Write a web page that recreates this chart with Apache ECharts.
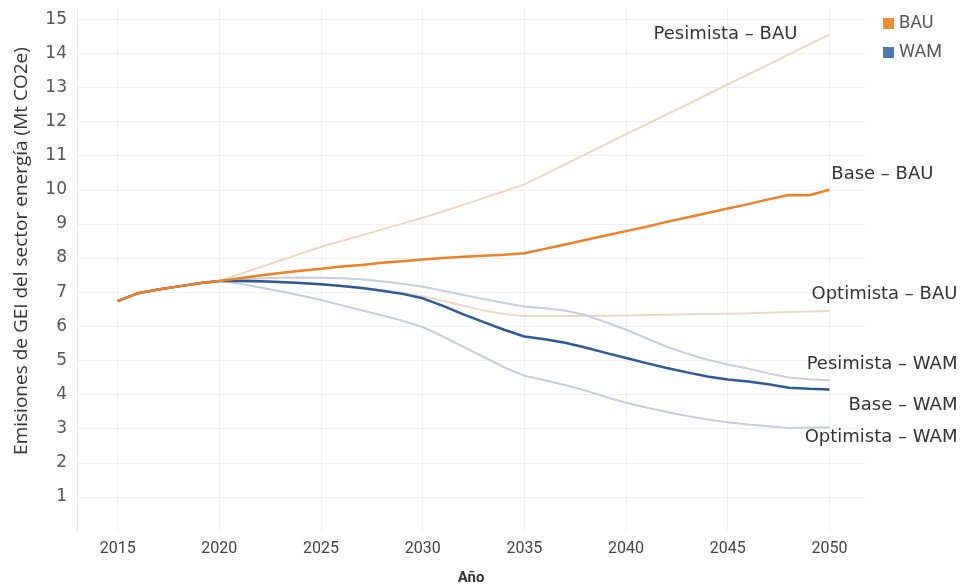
<!DOCTYPE html>
<html>
<head>
<meta charset="utf-8">
<script src="https://cdn.jsdelivr.net/npm/echarts@6/dist/echarts.min.js"></script>
<style>
  html, body { margin: 0; padding: 0; background: #fff; }
  #chart { width: 965px; height: 587px; }
</style>
</head>
<body>
<div id="chart"></div>
<script>
// años 2015-2050
const years = [2015, 2016, 2017, 2018, 2019, 2020, 2021, 2022, 2023, 2024, 2025, 2026,
  2027, 2028, 2029, 2030, 2031, 2032, 2033, 2034, 2035, 2036, 2037, 2038, 2039, 2040,
  2041, 2042, 2043, 2044, 2045, 2046, 2047, 2048, 2049, 2050];

const xTicks = [2015, 2020, 2025, 2030, 2035, 2040, 2045, 2050];
const yTicks = [1, 2, 3, 4, 5, 6, 7, 8, 9, 10, 11, 12, 13, 14, 15];

// Mt CO2e
const baseBAU = [6.74, 6.97, 7.08, 7.17, 7.26, 7.33,
  7.41, 7.49, 7.56, 7.63, 7.69, 7.75, 7.8, 7.86, 7.91, 7.96, 8.0, 8.04, 8.07, 8.1, 8.14,
  8.27, 8.4, 8.53, 8.66, 8.79, 8.92, 9.06, 9.19, 9.32, 9.45, 9.58, 9.72, 9.85, 9.84, 10.0];
const pesimistaBAU = [6.74, 6.97, 7.08, 7.17, 7.26, 7.33,
  7.53, 7.73, 7.93, 8.13, 8.33, 8.5, 8.67, 8.84, 9.01, 9.18, 9.37, 9.56, 9.76, 9.96, 10.16,
  10.45, 10.75, 11.04, 11.33, 11.63, 11.92, 12.21, 12.5, 12.8, 13.09, 13.38, 13.67, 13.97, 14.26, 14.55];
const optimistaBAU = [6.74, 6.97, 7.08, 7.17, 7.26, 7.33,
  7.32, 7.3, 7.28, 7.26, 7.23, 7.19, 7.13, 7.06, 6.98, 6.88, 6.75, 6.6, 6.46, 6.36, 6.3,
  6.3, 6.3, 6.31, 6.31, 6.32, 6.33, 6.34, 6.35, 6.36, 6.37, 6.38, 6.4, 6.42, 6.43, 6.45];
const baseWAM = [6.74, 6.97, 7.08, 7.17, 7.26, 7.33,
  7.33, 7.32, 7.3, 7.27, 7.23, 7.18, 7.12, 7.04, 6.95, 6.82, 6.6, 6.35, 6.12, 5.9, 5.7,
  5.62, 5.52, 5.38, 5.22, 5.07, 4.92, 4.78, 4.65, 4.53, 4.44, 4.38, 4.3, 4.2, 4.17, 4.15];
const pesimistaWAM = [6.74, 6.97, 7.08, 7.17, 7.26, 7.33,
  7.37, 7.4, 7.42, 7.43, 7.42, 7.41, 7.38, 7.32, 7.25, 7.16, 7.04, 6.92, 6.8, 6.68, 6.58,
  6.53, 6.46, 6.33, 6.12, 5.9, 5.65, 5.4, 5.2, 5.02, 4.88, 4.76, 4.62, 4.5, 4.45, 4.42];
const optimistaWAM = [6.74, 6.97, 7.08, 7.17, 7.26, 7.33,
  7.25, 7.14, 7.03, 6.9, 6.77, 6.62, 6.47, 6.32, 6.16, 5.98, 5.7, 5.4, 5.1, 4.8, 4.55,
  4.42, 4.28, 4.12, 3.93, 3.76, 3.62, 3.49, 3.37, 3.27, 3.19, 3.12, 3.07, 3.02, 3.03, 3.03];

const chart = echarts.init(document.getElementById('chart'));

function serie(name, values, color, legendColor, width, label, offset, z) {
  return {
    name: name,
    type: 'line',
    data: years.map((y, i) => [y, values[i]]),
    showSymbol: false,
    symbol: 'none',
    z: z,
    itemStyle: { color: legendColor },
    lineStyle: { color: color, width: width },
    emphasis: { disabled: true },
    endLabel: {
      show: true,
      formatter: label,
      align: 'right',
      verticalAlign: 'middle',
      offset: offset,
      color: '#333',
      fontFamily: 'DejaVu Sans',
      fontSize: 18
    }
  };
}

const option = {
  backgroundColor: '#fff',
  animation: false,
  grid: { left: 77, right: 100, top: 9, bottom: 56, outerBoundsMode: 'none', containLabel: false },
  legend: {
    data: ['BAU', 'WAM'],
    orient: 'vertical',
    left: 878,
    top: 9,
    icon: 'rect',
    itemWidth: 11,
    itemHeight: 11,
    itemGap: 10,
    textStyle: { color: '#555', fontSize: 18, fontFamily: 'Roboto', lineHeight: 19 }
  },
  xAxis: {
    type: 'value',
    min: 2013,
    max: 2051.75,
    name: 'Año',
    nameLocation: 'middle',
    nameGap: 40,
    nameTextStyle: { color: '#333', fontSize: 15, fontWeight: 'bold', fontFamily: 'Roboto' },
    axisLine: { show: false },
    axisTick: { show: false, customValues: xTicks },
    axisLabel: {
      customValues: xTicks,
      color: '#444',
      fontSize: 16,
      fontFamily: 'Roboto',
      margin: 10,
      formatter: v => String(v)
    },
    splitLine: { show: true, lineStyle: { color: '#f0f0f0', width: 1 } }
  },
  yAxis: {
    type: 'value',
    min: 0,
    max: 15.3,
    name: 'Emisiones de GEI del sector energía (Mt CO2e)',
    nameLocation: 'middle',
    nameGap: 46,
    nameTextStyle: { color: '#333', fontSize: 19, fontFamily: 'Open Sans', padding: [0, 0, 0, 38] },
    axisLine: { show: true, lineStyle: { color: '#e6e6e6' } },
    axisTick: { show: false, customValues: yTicks },
    axisLabel: {
      customValues: yTicks,
      color: '#555',
      fontSize: 17,
      fontFamily: 'DejaVu Sans',
      margin: 10
    },
    splitLine: { show: true, lineStyle: { color: '#f0f0f0', width: 1 } }
  },
  series: [
    serie('Pesimista – BAU', pesimistaBAU, '#ead9bf', '#ead9bf', 2, 'Pesimista – BAU', [-40, 0], 1),
    serie('Optimista – BAU', optimistaBAU, '#ead9bf', '#ead9bf', 2, 'Optimista – BAU', [120, -17], 1),
    serie('Pesimista – WAM', pesimistaWAM, '#c8ccdb', '#c8ccdb', 2, 'Pesimista – WAM', [120, -16], 2),
    serie('Optimista – WAM', optimistaWAM, '#c8ccdb', '#c8ccdb', 2, 'Optimista – WAM', [120, 10], 2),
    serie('WAM', baseWAM, '#2b5a9b', '#4e79b0', 2.5, 'Base – WAM', [120, 16], 3),
    serie('BAU', baseBAU, '#f07f1e', '#f28e2b', 2.5, 'Base – BAU', [96, -15], 4)
  ]
};

chart.setOption(option);
</script>
</body>
</html>
